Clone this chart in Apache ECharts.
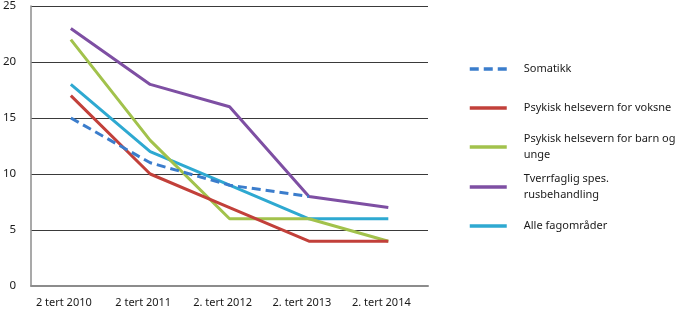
<!DOCTYPE html>
<html><head><meta charset="utf-8">
<script src="https://cdn.jsdelivr.net/npm/echarts@6/dist/echarts.min.js"></script>
<style>html,body{margin:0;padding:0;background:#fff}#c{width:700px;height:323px}</style>
</head><body><div id="c"></div>
<script>
const categories = ['2 tert 2010', '2 tert 2011', '2. tert 2012', '2. tert 2013', '2. tert 2014'];
const yTicks = [0, 5, 10, 15, 20, 25];
const somatikk = [15, 11, 9, 8, null];
const psykVoksne = [17, 10, 7, 4, 4];
const psykBarn = [22, 13, 6, 6, 4];
const tverrfaglig = [23, 18, 16, 8, 7];
const alle = [18, 12, 9, 6, 6];
const names = ['Somatikk', 'Psykisk helsevern for voksne', 'Psykisk helsevern for barn og\nunge', 'Tverrfaglig spes.\nrusbehandling', 'Alle fagområder'];
const colors = ['#3b7dcc', '#c2403a', '#a2c24c', '#7e4fa3', '#2ea9d1'];
const seriesData = [somatikk, psykVoksne, psykBarn, tverrfaglig, alle];

const font = 'Noto Sans';
const legendCenters = [69, 108, 147, 187, 226];
const legends = names.map((n, i) => {
  const two = n.indexOf('\n') >= 0;
  return {
    show: true, orient: 'vertical', left: 468, top: legendCenters[i] - (two ? 24 : 8),
    padding: 0, itemWidth: 37, itemHeight: 14,
    data: [n],
    itemStyle: { opacity: 0 },
    lineStyle: { width: 3.5, type: i === 0 ? [9, 5] : 'solid' },
    textStyle: { fontFamily: font, fontSize: 11, color: '#1a1a1a', lineHeight: 16,
      padding: two ? [16, 0, 0, 12] : [0, 0, 0, 12] }
  };
});

const chart = echarts.init(document.getElementById('c'), null, { renderer: 'canvas' });
chart.setOption({
  animation: false,
  backgroundColor: '#fff',
  grid: { left: 27, right: 272, top: 6, bottom: 37, containLabel: false },
  legend: legends,
  xAxis: {
    type: 'category', data: categories, boundaryGap: true,
    axisLine: { lineStyle: { color: '#8c8c8c', width: 2 } },
    axisTick: { show: false },
    axisLabel: { fontFamily: font, fontSize: 11, color: '#1a1a1a', margin: 11, interval: 0, padding: [0, 14, 0, 0] },
    splitLine: { show: false }
  },
  yAxis: {
    type: 'value', min: yTicks[0], max: yTicks[yTicks.length - 1], interval: 5,
    axisLine: { show: true, lineStyle: { color: '#8c8c8c', width: 1.5 } },
    axisTick: { show: false },
    axisLabel: { fontFamily: font, fontSize: 11.5, color: '#1a1a1a', margin: 15 },
    splitLine: { show: true, lineStyle: { color: '#3a3a3a', width: 1 } }
  },
  series: seriesData.map((d, i) => ({
    name: names[i], type: 'line', data: d, symbol: 'none', smooth: false,
    color: colors[i],
    lineStyle: { color: colors[i], width: 3, type: i === 0 ? [9, 5] : 'solid' },
    z: 10 - i
  }))
});
</script></body></html>
